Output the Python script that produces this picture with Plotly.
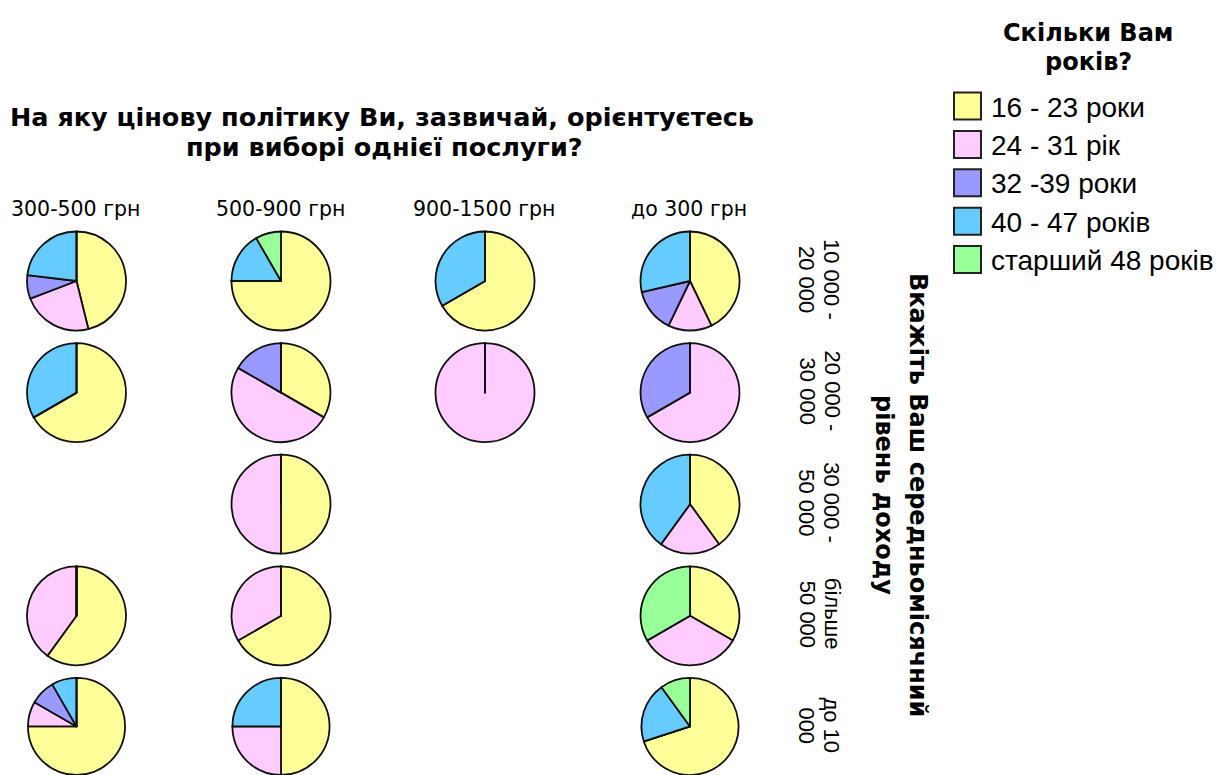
import plotly.graph_objects as go

# ---------------- data ----------------
price_cols = ["300-500 грн", "500-900 грн", "900-1500 грн", "до 300 грн"]
income_rows = ["10 000 -<br>20 000", "20 000 -<br>30 000", "30 000 -<br>50 000",
               "більше<br>50 000", "до 10<br>000"]
age_groups = ["16 - 23 роки", "24 - 31 рік", "32 -39 роки", "40 - 47 років", "старший 48 років"]
age_colors = ["#FFFF99", "#FFCCFF", "#9999FF", "#66CCFF", "#99FF99"]

# counts per income row (outer) and price column (inner); None = no answers
age_16_23 = [[6, 9, 2, 3], [2, 2, 0, 0], [None, 1, None, 2], [3, 2, None, 1], [9, 2, None, 7]]
age_24_31 = [[3, 0, 0, 1], [0, 3, 1, 2], [None, 1, None, 1], [2, 1, None, 1], [1, 1, None, 0]]
age_32_39 = [[1, 0, 0, 1], [0, 1, 0, 1], [None, 0, None, 0], [0, 0, None, 0], [1, 0, None, 0]]
age_40_47 = [[3, 2, 1, 2], [1, 0, 0, 0], [None, 0, None, 2], [0, 0, None, 0], [1, 1, None, 2]]
age_48_up = [[0, 1, 0, 0], [0, 0, 0, 0], [None, 0, None, 0], [0, 0, None, 1], [0, 0, None, 1]]
series = [age_16_23, age_24_31, age_32_39, age_40_47, age_48_up]

title_lines = ["На яку цінову політику Ви, зазвичай, орієнтуєтесь", "при виборі однієї послуги?"]
row_title_lines = ["Вкажіть Ваш середньомісячний", "рівень доходу"]
legend_title_lines = ["Скільки Вам", "років?"]

# ---------------- layout constants (pixels) ----------------
W, H = 1221, 775
col_x = [76.5, 281, 485, 690]
row_y0, row_step = 281, 111.6
R = 49.5


def fx(x):
    return x / W


def fy(y):
    return 1 - y / H


fig = go.Figure()
for r in range(len(income_rows)):
    cy = row_y0 + r * row_step
    for c in range(len(price_cols)):
        vals = [s[r][c] for s in series]
        if vals[0] is None:
            continue
        cx = col_x[c]
        top = max(cy - R, 0)
        bot = min(cy + R, H)
        half = (bot - top) / 2
        fig.add_trace(go.Pie(
            labels=age_groups, values=vals, sort=False, direction="clockwise", rotation=0,
            marker=dict(colors=age_colors, line=dict(color="#111111", width=1.8)),
            textinfo="none", showlegend=False, name=price_cols[c],
            hovertemplate="%{label}: %{value} (%{percent})<extra></extra>",
            domain=dict(x=[fx(cx - half), fx(cx + half)], y=[fy(bot), fy(top)]),
        ))

ann = []


def txt(x, y, s, size, family="DejaVu Sans", bold=False, angle=0, xanchor="center"):
    ann.append(dict(x=fx(x), y=fy(y), xref="paper", yref="paper", showarrow=False,
                    text=("<b>%s</b>" % s) if bold else s, textangle=angle,
                    xanchor=xanchor, yanchor="middle",
                    font=dict(family=family, size=size, color="#000000")))


# main title
txt(382, 117, title_lines[0], 25.5, bold=True)
txt(384, 147, title_lines[1], 25.5, bold=True)

# column labels
for c, lab in enumerate(price_cols):
    txt(col_x[c] - 1, 209, lab, 20.5)

# row labels (rotated, two lines each)
for r, lab in enumerate(income_rows):
    cy = row_y0 + r * row_step
    l1, l2 = lab.split("<br>")
    txt(832, cy - 2, l1, 22, family="Liberation Sans", angle=90)
    txt(807, cy - 2, l2, 22, family="Liberation Sans", angle=90)

# row axis title
txt(918, 495, row_title_lines[0], 24, bold=True, angle=90)
txt(884, 495, row_title_lines[1], 24, bold=True, angle=90)

# legend
txt(1088, 33, legend_title_lines[0], 24, bold=True)
txt(1088, 62, legend_title_lines[1], 24, bold=True)

shapes = []
for i, (lab, col) in enumerate(zip(age_groups, age_colors)):
    yc = 106 + i * 38.4
    shapes.append(dict(type="rect", xref="paper", yref="paper",
                       x0=fx(954), x1=fx(981), y0=fy(yc + 13.5), y1=fy(yc - 13.5),
                       fillcolor=col, line=dict(color="#222222", width=2)))
    txt(989, yc + 1, lab, 28, family="Liberation Sans", xanchor="left")

fig.update_layout(
    width=W, height=H, autosize=False,
    margin=dict(l=0, r=0, t=0, b=0),
    paper_bgcolor="white", plot_bgcolor="white",
    annotations=ann, shapes=shapes,
)

fig.write_html("out.html")
